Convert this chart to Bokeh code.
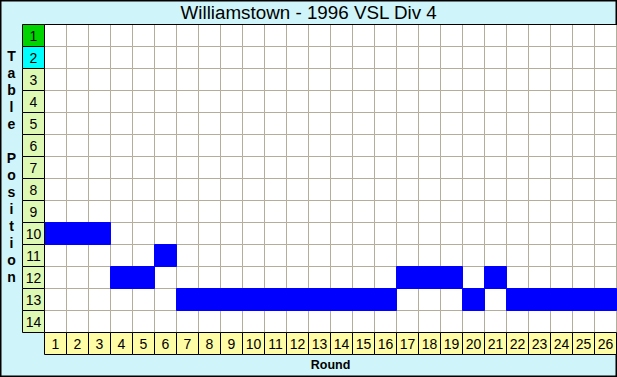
from bokeh.plotting import figure
from bokeh.models import Range1d
from bokeh.embed import file_html
from bokeh.resources import INLINE
from bokeh.core.properties import value

# ---- data ----
rounds = list(range(1, 27))
positions = [10, 10, 10, 12, 12, 11, 13, 13, 13, 13, 13, 13, 13,
             13, 13, 13, 12, 12, 12, 13, 12, 13, 13, 13, 13, 13]
table_positions = list(range(1, 15))
chart_title = "Williamstown - 1996 VSL Div 4"
x_title = "Round"
y_title = "Table Position"

# ---- layout ----
W, H = 617, 377
CELL = 22.0
GRID_LEFT, GRID_TOP = 44, 24
FONT = value("Liberation Sans")

x_start = 0.5 - GRID_LEFT / CELL
x_end = x_start + W / CELL
y_top = 0.5 - GRID_TOP / CELL
y_bottom = y_top + H / CELL

BG = "#cff5fa"
GRID_C = "#b3ad9c"

p = figure(width=W, height=H, output_backend="svg", toolbar_location=None,
           x_range=Range1d(x_start, x_end), y_range=Range1d(y_bottom, y_top),
           min_border=0, min_border_left=0, min_border_right=0,
           min_border_top=0, min_border_bottom=0)
p.axis.visible = False
p.grid.visible = False
p.background_fill_color = BG
p.border_fill_color = BG
p.outline_line_color = "black"
p.outline_line_width = 2

n_pos = len(table_positions)
n_r = len(rounds)

# grid cells
gx = [r for r in rounds for _ in table_positions]
gy = [t for _ in rounds for t in table_positions]
p.rect(x=gx, y=gy, width=1, height=1, fill_color="white",
       line_color=GRID_C, line_width=1)

# position bars
p.rect(x=rounds, y=positions, width=1, height=1, fill_color="#0000ff",
       line_color="#0000ff", line_width=1)

# row label column
row_colors = ["#00d400" if t == 1 else "#00ffff" if t == 2 else "#def9b4"
              for t in table_positions]
p.rect(x=[0] * n_pos, y=table_positions, width=1, height=1,
       fill_color=row_colors, line_color="black", line_width=1)
p.text(x=[0] * n_pos, y=table_positions, text=[str(t) for t in table_positions],
       text_align="center", text_baseline="middle", text_font=FONT,
       text_font_size="14px", text_color="black")

# round label row
p.rect(x=rounds, y=[n_pos + 1] * n_r, width=1, height=1,
       fill_color="#fffca6", line_color="black", line_width=1)
p.text(x=rounds, y=[n_pos + 1] * n_r, text=[str(r) for r in rounds],
       text_align="center", text_baseline="middle", text_font=FONT,
       text_font_size="14px", text_color="black")

# top border of grid
p.line(x=[rounds[0] - 0.5, rounds[-1] + 0.6], y=[0.5, 0.5],
       line_color="black", line_width=1)

# title
p.text(x=[x_start + (W / 2) / CELL], y=[y_top + 12 / CELL], text=[chart_title],
       text_align="center", text_baseline="middle", text_font=FONT,
       text_font_size="18.8px", text_color="black")

# x title
p.text(x=[(rounds[0] + rounds[-1]) / 2], y=[y_top + 364 / CELL], text=[x_title],
       text_align="center", text_baseline="middle", text_font=FONT,
       text_font_size="12.5px", text_font_style="bold", text_color="black")

# y title, stacked letters
lx, ly, lt = [], [], []
for i, ch in enumerate(y_title):
    if ch != " ":
        lx.append(x_start + 11 / CELL)
        ly.append(y_top + (55 + 17 * i) / CELL)
        lt.append(ch)
p.text(x=lx, y=ly, text=lt, text_align="center", text_baseline="middle",
       text_font=FONT, text_font_size="14px", text_font_style="bold",
       text_color="black")

open("out.html", "w").write(file_html(p, INLINE))
